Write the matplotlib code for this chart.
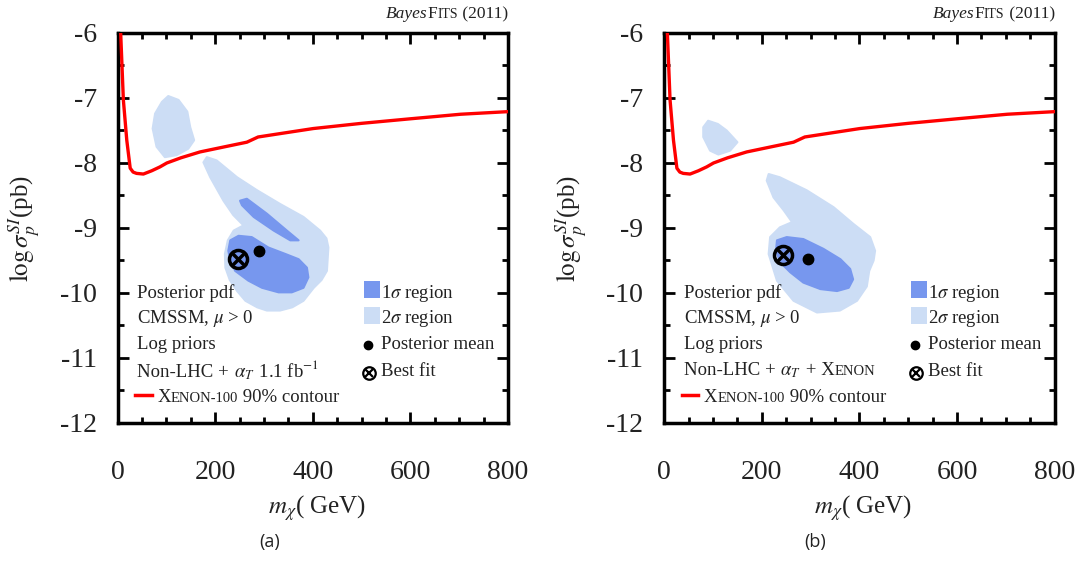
import matplotlib
matplotlib.use("Agg")
import matplotlib.pyplot as plt
from matplotlib.patches import Polygon, Rectangle
from matplotlib.lines import Line2D
from matplotlib.ticker import MultipleLocator
from matplotlib.offsetbox import TextArea, HPacker, AnnotationBbox, DrawingArea

# ------------------------------------------------------------
# data (m_chi in GeV, log10 sigma in pb)
# ------------------------------------------------------------

# Xenon-100 90% limit (same in both panels)
xenon_mx = [4, 6.5, 12, 19, 26, 32, 39, 53, 70, 87, 101, 130, 169, 220, 265, 288,
            340, 401, 500, 600, 703, 800]
xenon_sig = [-5.8, -6.0, -7.03, -7.65, -8.08, -8.14, -8.16, -8.17, -8.12, -8.06, -8.0,
             -7.92, -7.83, -7.75, -7.68, -7.6, -7.54, -7.47, -7.39, -7.32, -7.25, -7.21]

# panel (a): Non-LHC + alpha_T 1.1 fb^-1
a_2s_island_x = [104, 125, 143, 149, 157, 145, 121, 97, 80, 72, 77, 91]
a_2s_island_y = [-6.97, -7.03, -7.21, -7.45, -7.65, -7.78, -7.88, -7.91, -7.75, -7.47, -7.24, -7.06]
a_2s_main_x = [183, 203, 245, 286, 333, 381, 415, 428, 432, 429, 418, 402, 381, 358, 333,
               306, 286, 262, 245, 230, 221, 220, 226, 238, 258, 237, 217, 190, 176]
a_2s_main_y = [-7.91, -7.96, -8.22, -8.42, -8.63, -8.83, -9.04, -9.16, -9.30, -9.66, -9.80,
               -9.92, -10.12, -10.22, -10.27, -10.27, -10.22, -10.12, -9.97, -9.80, -9.61,
               -9.40, -9.19, -9.04, -8.96, -8.80, -8.58, -8.22, -7.99]
a_1s_band_x = [251, 265, 306, 347, 371, 354, 320, 279, 255]
a_1s_band_y = [-8.58, -8.55, -8.78, -9.04, -9.19, -9.19, -9.04, -8.83, -8.65]
a_1s_blob_x = [231, 248, 275, 309, 344, 371, 388, 391, 381, 357, 330, 296, 268, 241, 231, 227]
a_1s_blob_y = [-9.19, -9.12, -9.14, -9.30, -9.40, -9.48, -9.61, -9.76, -9.92, -9.99, -9.99,
               -9.92, -9.81, -9.66, -9.50, -9.35]
a_best = (246, -9.48)
a_mean = (289, -9.36)

# panel (b): Non-LHC + alpha_T + Xenon
b_2s_island_x = [90, 110, 128, 150, 135, 111, 94, 80, 80]
b_2s_island_y = [-7.35, -7.40, -7.50, -7.68, -7.81, -7.87, -7.81, -7.60, -7.45]
b_2s_main_x = [214, 237, 292, 347, 388, 422, 432, 429, 420, 415, 395, 360, 313, 265,
               231, 214, 217, 237, 262, 245, 224, 210]
b_2s_main_y = [-8.17, -8.22, -8.42, -8.68, -8.94, -9.14, -9.35, -9.50, -9.66, -9.90, -10.12,
               -10.27, -10.30, -10.12, -9.81, -9.40, -9.14, -8.99, -8.91, -8.73, -8.53, -8.27]
b_1s_x = [231, 251, 285, 326, 361, 381, 387, 378, 354, 320, 285, 258, 238, 229]
b_1s_y = [-9.19, -9.14, -9.17, -9.32, -9.48, -9.63, -9.79, -9.92, -9.97, -9.94, -9.84,
          -9.68, -9.53, -9.35]
b_best = (244, -9.42)
b_mean = (294, -9.48)

x_ticks = [0, 200, 400, 600, 800]
y_ticks = [-12, -11, -10, -9, -8, -7, -6]

# ------------------------------------------------------------
# style
# ------------------------------------------------------------
plt.rcParams["font.family"] = ["Liberation Serif", "DejaVu Serif"]
plt.rcParams["mathtext.fontset"] = "stix"
plt.rcParams["axes.unicode_minus"] = False

C1 = "#7797EE"   # 1 sigma
C2 = "#CCDDF5"   # 2 sigma
RED = "#FF0000"
TXT = "#222222"
FS = 13.5


def make_pack(parts, sep=0):
    boxes = []
    for p in parts:
        if isinstance(p, tuple):
            s, fs = p[0], p[1]
            props = dict(fontsize=fs, color=TXT)
            if len(p) > 2:
                props.update(p[2])
            boxes.append(TextArea(s, textprops=props))
        else:
            boxes.append(p)
    return HPacker(children=boxes, align="baseline", pad=0, sep=sep)


def text_row(ax, x, y, parts, align=(0, 0.5), sep=0):
    pack = make_pack(parts, sep)
    ab = AnnotationBbox(pack, (x, y), xycoords="axes fraction", box_alignment=align,
                        frameon=False, pad=0, annotation_clip=False)
    ax.add_artist(ab)


def red_dash():
    da = DrawingArea(16, 10, 0, 0)
    da.add_artist(Line2D([0, 12], [5, 5], color=RED, lw=2.5))
    return da


def draw_panel(ax, twosig, onesig, best, mean, data_line):
    for xs, ys in twosig:
        ax.add_patch(Polygon(list(zip(xs, ys)), closed=True, fc=C2, ec=C2, lw=1.5,
                             joinstyle="round", zorder=1))
    for xs, ys in onesig:
        ax.add_patch(Polygon(list(zip(xs, ys)), closed=True, fc=C1, ec=C1, lw=1.5,
                             joinstyle="round", zorder=2))
    ax.plot(xenon_mx, xenon_sig, color=RED, lw=2.4, zorder=3)
    ax.plot(*mean, "o", color="black", ms=7.5, zorder=4)
    ax.plot(*best, "o", mfc="none", mec="black", mew=2.5, ms=13, zorder=4)
    ax.plot(*best, "x", color="black", mew=2.5, ms=8, zorder=4)

    ax.set_xlim(0, 800)
    ax.set_ylim(-12, -6)
    ax.set_xticks(x_ticks)
    ax.set_yticks(y_ticks)
    ax.xaxis.set_minor_locator(MultipleLocator(50))
    ax.yaxis.set_minor_locator(MultipleLocator(0.5))
    ax.tick_params(which="both", direction="in", top=True, right=True, width=2,
                   colors="black", labelcolor=TXT, labelsize=20)
    ax.tick_params(which="major", length=8)
    ax.tick_params(which="minor", length=4.5)
    ax.tick_params(axis="x", pad=27)
    ax.tick_params(axis="y", pad=15)
    for sp in ax.spines.values():
        sp.set_linewidth(2.5)

    ax.set_xlabel(r"$m_{\chi}$( GeV)", fontsize=18, color=TXT, va="center")
    ax.xaxis.set_label_coords(0.51, -0.218)
    ax.set_ylabel(r"$\log\sigma_p^{SI}$(pb)", fontsize=18, color=TXT, va="center")
    ax.yaxis.set_label_coords(-0.237, 0.5)

    # BayesFits (2011)
    text_row(ax, 1.0, 1.048, [("Bayes", 12.5, {"style": "italic"}), ("F", 12.5),
                              ("ITS", 10), (" (2011)", 12.5)], align=(1, 0.5))

    # legend block, left column
    rows_y = [0.333, 0.269, 0.200, 0.133, 0.067]
    ax.text(0.05, rows_y[0], "Posterior pdf", transform=ax.transAxes, fontsize=FS,
            color=TXT, va="center")
    ax.text(0.05, rows_y[1], r"CMSSM, $\mu$ > 0", transform=ax.transAxes, fontsize=FS,
            color=TXT, va="center")
    ax.text(0.05, rows_y[2], "Log priors", transform=ax.transAxes, fontsize=FS,
            color=TXT, va="center")
    text_row(ax, 0.05, rows_y[3], data_line)
    text_row(ax, 0.045, rows_y[4], [red_dash(), ("X", FS), ("ENON-100", 10.5),
                                    (" 90% contour", FS)])

    # legend block, right column
    ax.add_patch(Rectangle((0.631, 0.321), 0.041, 0.043, transform=ax.transAxes,
                           fc=C1, ec="none", clip_on=False))
    ax.add_patch(Rectangle((0.631, 0.254), 0.041, 0.043, transform=ax.transAxes,
                           fc=C2, ec="none", clip_on=False))
    ax.text(0.675, rows_y[0], r"1$\sigma$ region", transform=ax.transAxes, fontsize=FS,
            color=TXT, va="center")
    ax.text(0.675, rows_y[1], r"2$\sigma$ region", transform=ax.transAxes, fontsize=FS,
            color=TXT, va="center")
    ax.plot(0.642, rows_y[2], "o", color="black", ms=6, transform=ax.transAxes, clip_on=False)
    ax.text(0.675, rows_y[2], "Posterior mean", transform=ax.transAxes, fontsize=FS,
            color=TXT, va="center")
    ax.plot(0.645, rows_y[3] - 0.004, "o", mfc="none", mec="black", mew=1.6, ms=9,
            transform=ax.transAxes, clip_on=False)
    ax.plot(0.645, rows_y[3] - 0.004, "x", color="black", mew=1.6, ms=5.5,
            transform=ax.transAxes, clip_on=False)
    ax.text(0.675, rows_y[3], "Best fit", transform=ax.transAxes, fontsize=FS,
            color=TXT, va="center")


fig = plt.figure(figsize=(10.86, 5.61), dpi=100)
ax_a = fig.add_axes([0.1082, 0.2460, 0.3596, 0.6952])
ax_b = fig.add_axes([0.6116, 0.2460, 0.3596, 0.6952])

draw_panel(ax_a,
           [(a_2s_island_x, a_2s_island_y), (a_2s_main_x, a_2s_main_y)],
           [(a_1s_band_x, a_1s_band_y), (a_1s_blob_x, a_1s_blob_y)],
           a_best, a_mean,
           [("Non-LHC + ", FS), (r"$\alpha_T$", FS), (" 1.1 fb$^{-1}$", FS)])
draw_panel(ax_b,
           [(b_2s_island_x, b_2s_island_y), (b_2s_main_x, b_2s_main_y)],
           [(b_1s_x, b_1s_y)],
           b_best, b_mean,
           [("Non-LHC + ", FS), (r"$\alpha_T$", FS), (" + X", FS), ("ENON", 10.5)])

fig.text(270 / 1086, 1 - 542 / 561, "(a)", fontsize=13, color=TXT, family="Open Sans",
         ha="center", va="center")
fig.text(815 / 1086, 1 - 542 / 561, "(b)", fontsize=13, color=TXT, family="Open Sans",
         ha="center", va="center")

fig.savefig("out.png", dpi=100)
